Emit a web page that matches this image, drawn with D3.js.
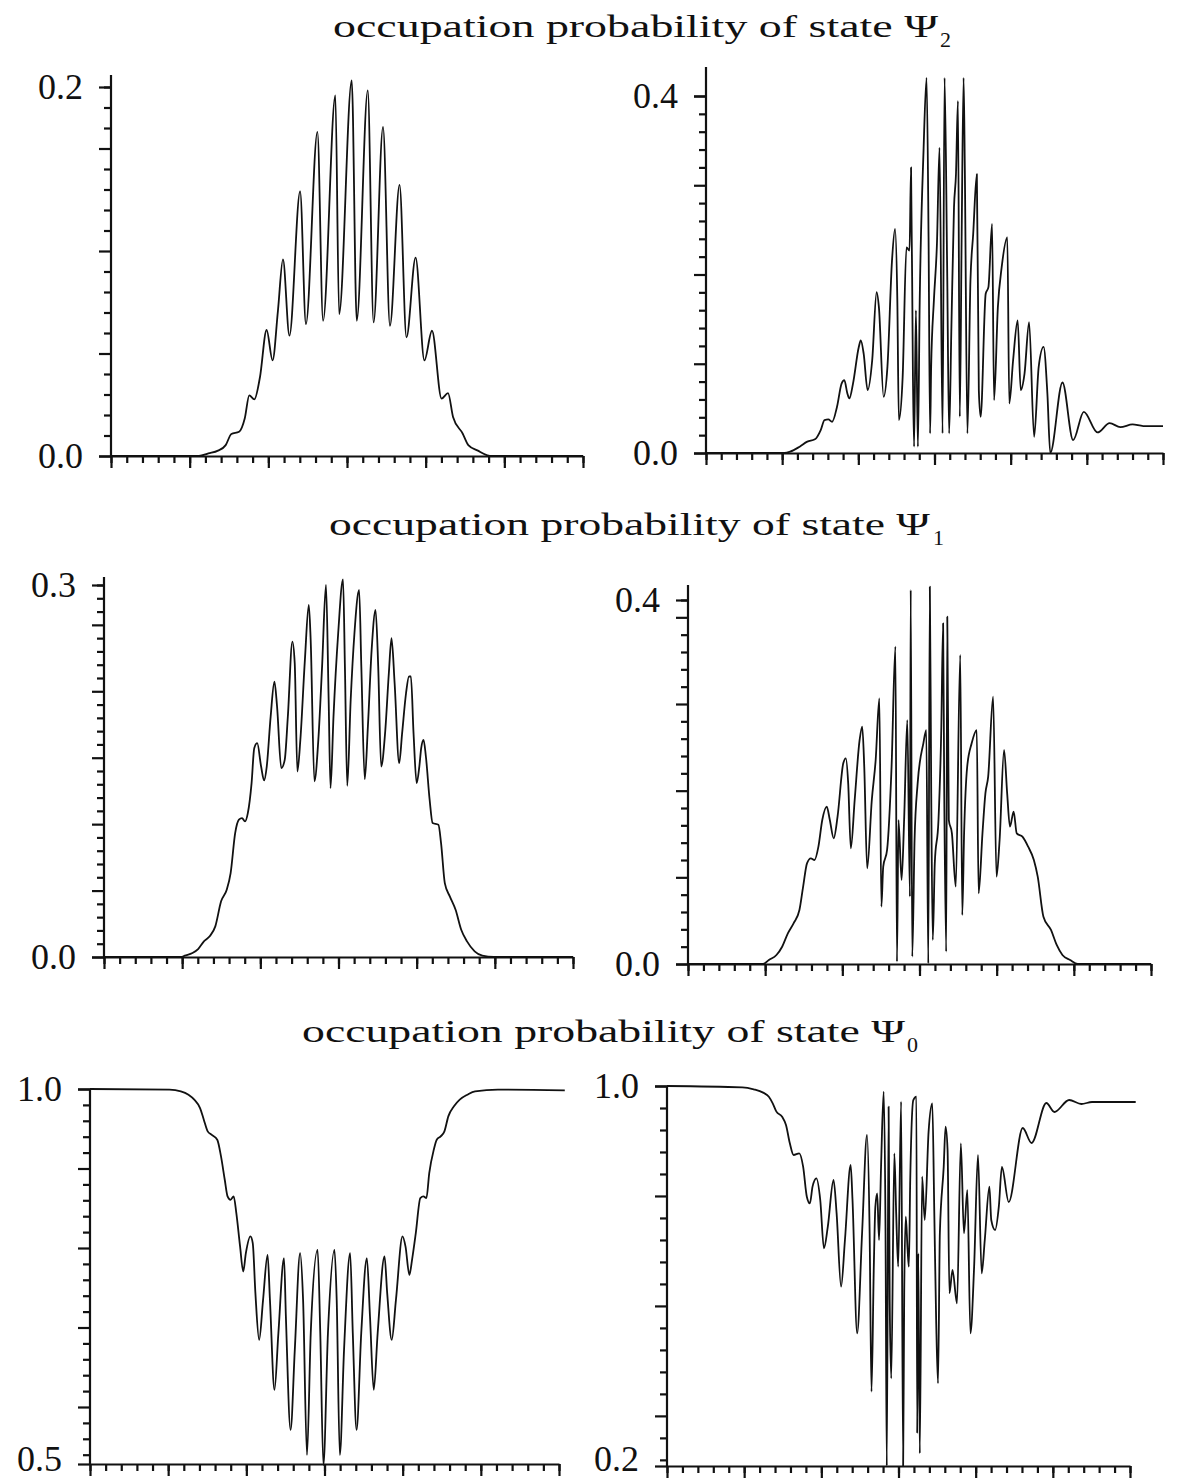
<!doctype html>
<html lang="en">
  <head>
    <meta charset="utf-8">
    <title>occupation probability</title>
    <script src="https://d3js.org/d3.v7.min.js"></script>
    <style>
      body { margin: 0; background: #fff; }
      svg { display: block; }
      text { font-family: "Liberation Serif", "Times New Roman", serif; fill: #111; }
    </style>
  </head>
  <body>
    <div id="chart"></div>
    <script>

      // row titles
      const titles = ["occupation probability of state Ψ", "occupation probability of state Ψ", "occupation probability of state Ψ"];
      const subscripts = ["2", "1", "0"];

      // y ranges and tick labels per panel (TL, TR, ML, MR, BL, BR)
      const yRanges = [[0, 0.2], [0, 0.4], [0, 0.3], [0, 0.4], [0.5, 1.0], [0.2, 1.0]];
      const yLabels = [["0.0", "0.2"], ["0.0", "0.4"], ["0.0", "0.3"], ["0.0", "0.4"], ["0.5", "1.0"], ["0.2", "1.0"]];
      const yTickSteps = [0.2 / 18, 0.02, 0.3 / 28, 0.4 / 21, 0.0212, 0.0463];
      const yTickFromTop = [false, false, false, false, true, true];

      // x axis: 30 small divisions, long tick every 5
      const xMinorTicks = d3.range(0, 31);
      const xMajorTicks = d3.range(0, 31, 5);

      // curves: [x in divisions, probability]
      const psi2Left = [[0,0],[5.59,0],[6.19,0.0014],[6.80,0.0029],[7.29,0.0059],[7.65,0.0119],[8.14,0.0131],[8.50,0.0203],[8.79,0.0329],[9.11,0.0307],[9.47,0.0428],[9.89,0.0683],[10.27,0.0518],[10.61,0.0787],[10.93,0.1066],[11.34,0.0652],[12.02,0.1434],[12.39,0.0715],[13.12,0.1757],[13.48,0.0733],[14.26,0.1955],[14.50,0.0769],[15.30,0.2036],[15.62,0.0733],[16.32,0.1982],[16.69,0.0724],[17.29,0.1784],[17.73,0.0706],[18.34,0.1470],[18.78,0.0643],[19.36,0.1075],[19.92,0.0518],[20.40,0.0679],[21.01,0.0311],[21.42,0.0341],[21.74,0.0212],[22.35,0.0122],[22.71,0.0059],[23.32,0.0029],[23.92,0.0004],[24.17,0],[30,0]];

      const psi2Right = [[0,0],[5.15,0],[5.53,0.0015],[6.15,0.0071],[6.65,0.0127],[7.15,0.0153],[7.53,0.0257],[7.78,0.0369],[8.03,0.0376],[8.28,0.0350],[8.60,0.0518],[8.90,0.0778],[9.08,0.0816],[9.28,0.0667],[9.41,0.0611],[9.65,0.0778],[10.03,0.1188],[10.16,0.1262],[10.35,0.1113],[10.61,0.0704],[10.91,0.1039],[11.20,0.1802],[11.35,0.1635],[11.66,0.0629],[11.91,0.0965],[12.21,0.2156],[12.41,0.2510],[12.56,0.1709],[12.66,0.0369],[12.91,0.0853],[13.16,0.2305],[13.36,0.2268],[13.46,0.3199],[13.58,0.0927],[13.66,0.0071],[13.78,0.1598],[13.91,0.0071],[14.03,0.1709],[14.28,0.3385],[14.48,0.4204],[14.61,0.2417],[14.71,0.0220],[14.78,0.0965],[14.96,0.1709],[15.16,0.2342],[15.33,0.3422],[15.53,0.0220],[15.66,0.4204],[15.83,0.2082],[15.96,0.0220],[16.11,0.1411],[16.28,0.2752],[16.41,0.3124],[16.54,0.3944],[16.66,0.0406],[16.78,0.2380],[16.91,0.4204],[16.99,0.3199],[17.16,0.0220],[17.36,0.1933],[17.54,0.2454],[17.78,0.3124],[17.91,0.0704],[18.03,0.0406],[18.36,0.1784],[18.54,0.1858],[18.78,0.2566],[18.91,0.0592],[19.16,0.1635],[19.41,0.2082],[19.78,0.2417],[19.91,0.0555],[20.16,0.1039],[20.46,0.1486],[20.66,0.0704],[20.91,0.0890],[21.21,0.1467],[21.54,0.0182],[21.84,0.0965],[22.16,0.1188],[22.41,0.0667],[22.60,0],[23.40,0.0790],[24.10,0.0145],[24.80,0.0460],[25.70,0.0230],[26.50,0.0335],[27.20,0.0290],[28.00,0.0320],[28.70,0.0302],[30,0.0302]];

      const psi1Left = [[0,0],[4.93,0],[5.17,0.0011],[5.66,0.0032],[6.02,0.0064],[6.39,0.0126],[6.76,0.0167],[7.12,0.0247],[7.49,0.0449],[7.85,0.0543],[8.10,0.0677],[8.39,0.0999],[8.63,0.1107],[8.83,0.1120],[9.02,0.1093],[9.20,0.1160],[9.44,0.1402],[9.61,0.1684],[9.80,0.1724],[10.05,0.1536],[10.24,0.1424],[10.41,0.1536],[10.66,0.1939],[10.90,0.2221],[11.07,0.2020],[11.34,0.1523],[11.56,0.1590],[11.76,0.1939],[12.05,0.2544],[12.20,0.2369],[12.37,0.1496],[12.56,0.1751],[12.85,0.2396],[13.10,0.2839],[13.22,0.2557],[13.46,0.1416],[13.71,0.1751],[13.95,0.2342],[14.20,0.3000],[14.37,0.2074],[14.49,0.1362],[14.68,0.1939],[14.98,0.2611],[15.29,0.3046],[15.41,0.2342],[15.56,0.1381],[15.78,0.2074],[16.02,0.2611],[16.32,0.2960],[16.46,0.2342],[16.68,0.1434],[16.88,0.1859],[17.12,0.2477],[17.37,0.2799],[17.54,0.2342],[17.73,0.1536],[17.98,0.1805],[18.22,0.2288],[18.39,0.2571],[18.59,0.2208],[18.88,0.1563],[19.07,0.1805],[19.32,0.2127],[19.51,0.2262],[19.63,0.2262],[19.80,0.1805],[20.00,0.1402],[20.17,0.1536],[20.29,0.1684],[20.44,0.1751],[20.59,0.1617],[20.83,0.1268],[21.02,0.1080],[21.39,0.1066],[21.56,0.0919],[21.80,0.0596],[22.12,0.0489],[22.49,0.0381],[22.85,0.0220],[23.22,0.0126],[23.71,0.0046],[24.20,0.0011],[24.93,0],[30,0]];

      const psi1Right = [[0,0],[4.87,0],[5.24,0.0044],[5.73,0.0099],[6.10,0.0190],[6.47,0.0337],[6.84,0.0447],[7.22,0.0593],[7.46,0.0850],[7.71,0.1106],[7.96,0.1161],[8.20,0.1143],[8.45,0.1289],[8.70,0.1582],[8.99,0.1729],[9.19,0.1582],[9.44,0.1381],[9.69,0.1619],[10.06,0.2205],[10.23,0.2260],[10.38,0.1985],[10.55,0.1271],[10.80,0.1802],[11.12,0.2462],[11.29,0.2608],[11.42,0.2168],[11.61,0.1051],[11.91,0.1802],[12.16,0.2242],[12.40,0.2919],[12.53,0.0630],[12.65,0.1070],[12.90,0.1253],[13.19,0.2168],[13.44,0.3487],[13.54,0.0026],[13.64,0.1582],[13.84,0.0923],[14.01,0.1619],[14.21,0.2681],[14.38,0.0740],[14.43,0.4110],[14.53,0.0081],[14.68,0.1363],[14.88,0.1985],[15.25,0.2425],[15.44,0.2571],[15.57,0.0007],[15.67,0.4147],[15.76,0.1875],[15.86,0.0264],[15.99,0.1106],[16.23,0.1582],[16.41,0.2571],[16.53,0.3744],[16.60,0.1949],[16.73,0.0136],[16.80,0.3817],[16.90,0.1582],[17.10,0.1436],[17.35,0.0850],[17.64,0.3396],[17.77,0.0538],[17.89,0.1436],[18.09,0.2168],[18.38,0.2425],[18.71,0.2571],[18.83,0.0777],[19.08,0.1436],[19.27,0.1875],[19.45,0.2059],[19.77,0.2938],[19.99,0.0960],[20.19,0.1363],[20.48,0.2352],[20.68,0.1875],[20.86,0.1509],[21.10,0.1674],[21.30,0.1436],[21.67,0.1399],[22.04,0.1289],[22.41,0.1143],[22.66,0.0960],[23.03,0.0520],[23.52,0.0374],[23.89,0.0209],[24.26,0.0099],[24.76,0.0044],[25.25,0],[30,0]];

      const psi0Left = [[0,1.0],[5.08,0.9991],[5.81,0.9969],[6.30,0.9924],[6.67,0.9858],[7.04,0.9746],[7.28,0.9591],[7.53,0.9435],[7.77,0.9391],[8.14,0.9324],[8.38,0.9101],[8.62,0.8790],[8.80,0.8568],[8.99,0.8523],[9.19,0.8568],[9.36,0.8345],[9.60,0.7901],[9.80,0.7567],[9.97,0.7812],[10.26,0.8034],[10.41,0.7945],[10.58,0.7278],[10.82,0.6655],[11.07,0.7189],[11.36,0.7789],[11.51,0.7189],[11.80,0.5988],[12.05,0.6744],[12.41,0.7745],[12.53,0.6967],[12.83,0.5454],[13.10,0.6522],[13.44,0.7812],[13.63,0.7189],[13.88,0.5121],[14.12,0.6744],[14.56,0.7856],[14.73,0.6744],[14.93,0.4987],[15.22,0.6744],[15.64,0.7856],[15.78,0.7189],[15.98,0.5121],[16.25,0.6522],[16.64,0.7812],[16.81,0.6744],[17.05,0.5454],[17.35,0.6744],[17.71,0.7745],[17.91,0.6967],[18.15,0.5988],[18.40,0.6744],[18.84,0.7767],[19.01,0.7278],[19.30,0.6655],[19.57,0.7189],[19.99,0.8034],[20.18,0.7901],[20.43,0.7522],[20.60,0.7723],[20.84,0.8078],[21.13,0.8546],[21.33,0.8568],[21.52,0.8546],[21.70,0.8879],[21.99,0.9190],[22.18,0.9324],[22.43,0.9368],[22.67,0.9435],[22.92,0.9635],[23.28,0.9769],[23.65,0.9858],[24.14,0.9924],[24.63,0.9969],[26.09,0.9991],[30.37,0.9982]];

      const psi0Right = [[0,1.0],[4.88,0.9972],[5.62,0.9930],[6.23,0.9860],[6.60,0.9775],[6.85,0.9635],[7.09,0.9460],[7.46,0.9354],[7.71,0.9179],[7.96,0.8793],[8.20,0.8547],[8.57,0.8582],[8.82,0.8302],[9.06,0.7670],[9.26,0.7530],[9.43,0.7881],[9.68,0.8056],[9.93,0.7600],[10.17,0.6582],[10.42,0.7038],[10.79,0.8021],[10.99,0.7319],[11.28,0.5775],[11.53,0.6758],[11.90,0.8337],[12.02,0.7600],[12.32,0.4793],[12.64,0.6898],[12.96,0.8968],[13.13,0.6898],[13.25,0.3564],[13.40,0.6196],[13.50,0.7459],[13.62,0.7740],[13.74,0.6758],[13.87,0.8302],[14.04,0.9881],[14.16,0.6898],[14.24,0.2],[14.36,0.9565],[14.43,0.5494],[14.53,0.3845],[14.73,0.8582],[14.85,0.7319],[14.98,0.6196],[15.17,0.9670],[15.30,0.2],[15.37,0.5635],[15.47,0.7249],[15.59,0.6547],[15.67,0.6196],[15.76,0.8021],[15.96,0.9705],[16.16,0.9775],[16.21,0.2687],[16.28,0.6477],[16.38,0.2266],[16.53,0.8091],[16.70,0.7179],[16.95,0.9039],[17.19,0.9635],[17.32,0.7319],[17.44,0.5073],[17.56,0.3740],[17.68,0.6898],[17.93,0.8302],[18.05,0.9144],[18.18,0.8653],[18.30,0.5635],[18.50,0.6126],[18.79,0.5424],[19.04,0.8793],[19.24,0.6898],[19.46,0.7810],[19.66,0.4793],[19.90,0.6196],[20.15,0.8547],[20.39,0.6056],[20.59,0.6758],[20.89,0.7881],[21.01,0.7179],[21.26,0.6968],[21.50,0.7459],[21.70,0.8295],[22.14,0.7558],[23.05,0.9116],[23.62,0.8800],[24.58,0.9642],[25.10,0.9453],[26.06,0.9705],[26.85,0.9621],[27.54,0.9663],[30.37,0.9663]];

      const curves = [psi2Left, psi2Right, psi1Left, psi1Right, psi0Left, psi0Right];

      // page layout of each panel (pixels)
      const frames = [
        {x0: 111, x1: 583, yLo: 456, yHi: 87, over: 12},
        {x0: 706, x1: 1163, yLo: 453, yHi: 96, over: 29},
        {x0: 104, x1: 573, yLo: 957, yHi: 585, over: 8},
        {x0: 688, x1: 1151, yLo: 964, yHi: 600, over: 15},
        {x0: 90, x1: 559, yLo: 1464, yHi: 1089, over: 0},
        {x0: 667, x1: 1130, yLo: 1466, yHi: 1086, over: 0}
      ];
      const titlePos = [
        {x: 333, y: 37, len: 605, sx: 940},
        {x: 329, y: 535, len: 601, sx: 933},
        {x: 302, y: 1042, len: 603, sx: 907}
      ];

      const svg = d3.select("#chart")
        .append("svg")
          .attr("width", 1177)
          .attr("height", 1482);

      svg.append("rect").attr("width", 1177).attr("height", 1482).attr("fill", "#fff");

      // titles
      titles.forEach((t, i) => {
        const p = titlePos[i];
        svg.append("text")
          .attr("x", p.x)
          .attr("y", p.y)
          .attr("font-size", "32px")
          .attr("textLength", p.len)
          .attr("lengthAdjust", "spacingAndGlyphs")
          .text(t);
        svg.append("text")
          .attr("x", p.sx)
          .attr("y", p.y + 10)
          .attr("font-size", "22px")
          .text(subscripts[i]);
      });

      function yTickValues(i) {
        const [lo, hi] = yRanges[i];
        const step = yTickSteps[i];
        const n = Math.floor((hi - lo) / step + 1e-6);
        return d3.range(n + 1).map(k => ({
          v: yTickFromTop[i] ? hi - k * step : lo + k * step,
          major: k % 5 === 0
        }));
      }

      curves.forEach((data, i) => {
        const f = frames[i];
        const x = d3.scaleLinear().domain([0, 30]).range([f.x0, f.x1]);
        const y = d3.scaleLinear().domain(yRanges[i]).range([f.yLo, f.yHi]);
        const g = svg.append("g");

        // x axis, short and long ticks
        g.append("g")
          .attr("transform", `translate(0,${f.yLo})`)
          .call(d3.axisBottom(x).tickValues(xMinorTicks).tickSize(7).tickSizeOuter(0).tickFormat(""));
        const gxMajor = g.append("g")
          .attr("transform", `translate(0,${f.yLo})`)
          .call(d3.axisBottom(x).tickValues(xMajorTicks).tickSize(12).tickSizeOuter(0).tickFormat(""));
        gxMajor.select(".domain").remove();

        // y axis
        const yt = yTickValues(i);
        const gyMinor = g.append("g")
          .attr("transform", `translate(${f.x0},0)`)
          .call(d3.axisLeft(y).tickValues(yt.filter(d => !d.major).map(d => d.v)).tickSize(7).tickFormat(""));
        const gyMajor = g.append("g")
          .attr("transform", `translate(${f.x0},0)`)
          .call(d3.axisLeft(y).tickValues(yt.filter(d => d.major).map(d => d.v).concat(yRanges[i])).tickSize(12).tickFormat(""));
        gyMinor.select(".domain").remove();
        gyMajor.select(".domain").remove();
        g.append("line")
          .attr("x1", f.x0).attr("x2", f.x0)
          .attr("y1", y(yRanges[i][0]))
          .attr("y2", y(yRanges[i][1]) - f.over);

        g.selectAll("line, path")
          .attr("stroke", "#111")
          .attr("stroke-width", 2.2);

        // tick labels
        yRanges[i].forEach((v, k) => {
          g.append("text")
            .attr("x", f.x0 - 28)
            .attr("y", Math.min(y(v) + 12, 1471))
            .attr("text-anchor", "end")
            .attr("font-size", "36px")
            .text(yLabels[i][k]);
        });

        // curve
        const line = d3.line()
          .x(d => x(d[0]))
          .y(d => y(d[1]))
          .curve(d3.curveMonotoneX);
        g.append("path")
          .datum(data)
          .attr("fill", "none")
          .attr("stroke", "#111")
          .attr("stroke-width", 1.8)
          .attr("stroke-linejoin", "round")
          .attr("d", line);
      });

    </script>
  </body>
</html>
